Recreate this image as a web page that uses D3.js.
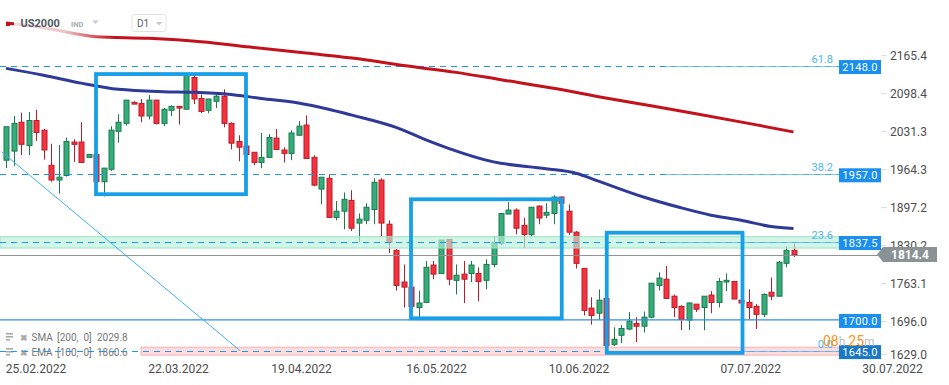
<!DOCTYPE html>
<html>
<head>
<meta charset="utf-8">
<script src="https://cdn.jsdelivr.net/npm/d3@7/dist/d3.min.js"></script>
<style>
  body { margin: 0; background: #fff; font-family: Roboto, "Noto Sans", sans-serif; }
  svg text { font-family: Roboto, "Noto Sans", sans-serif; white-space: pre; }
</style>
</head>
<body>
<div id="chart"></div>
<script>
// daily candles, [open, high, low, close]
var candles = [
  [1981,2040,1967,2040],[1997,2059,1971,2046],[2048,2065,1990,2009],[2007,2066,1990,2051],
  [2051,2070,2015,2030],[2034,2036,1982,1999],[1972,2010,1943,1946],[1946,2008,1922,1951],
  [1954,2021,1952,2014],[2013,2018,1978,2009],[2013,2048,1977,1977],[1986,1991,1986,1991],
  [1991,1991,1943,1943],[1943,1967,1917,1967],[1965,2041,1962,2034],[2032,2062,2012,2048],
  [2046,2087,2042,2087],[2083,2085,2080,2080],[2081,2089,2048,2059],[2059,2096,2053,2087],
  [2087,2087,2044,2046],[2046,2073,2041,2071],[2069,2078,2059,2076],[2076,2076,2044,2073],
  [2071,2136,2071,2131],[2127,2131,2080,2089],[2090,2097,2064,2067],[2069,2089,2064,2089],
  [2085,2097,2073,2094],[2094,2106,2039,2046],[2046,2048,2000,2011],[2014,2025,1979,2004],
  [2006,2006,1991,1991],[1995,1995,1972,1977],[1977,2029,1967,1986],[1986,2027,1986,2021],
  [2020,2036,2000,2000],[1999,2004,1977,1993],[1993,2034,1981,2029],[2025,2050,2025,2041],
  [2043,2060,1983,1984],[1986,1990,1935,1937],[1930,1951,1903,1951],[1949,1956,1880,1880],
  [1880,1909,1875,1891],[1891,1924,1859,1912],[1910,1928,1856,1861],[1870,1887,1836,1877],
  [1875,1905,1868,1898],[1894,1949,1868,1942],[1946,1949,1847,1870],[1868,1875,1817,1836],
  [1822,1824,1751,1760],[1766,1797,1721,1757],[1757,1757,1723,1723],[1721,1751,1699,1729],
  [1730,1803,1730,1792],[1796,1803,1771,1780],[1781,1840,1781,1840],[1841,1841,1760,1771],
  [1769,1797,1744,1778],[1780,1803,1729,1771],[1781,1803,1766,1796],[1781,1792,1732,1767],
  [1769,1806,1753,1797],[1797,1847,1792,1836],[1834,1887,1831,1887],[1886,1907,1886,1893],
  [1893,1896,1850,1861],[1866,1879,1826,1850],[1850,1898,1846,1898],[1900,1901,1868,1879],
  [1884,1905,1879,1889],[1887,1919,1868,1916],[1916,1917,1902,1905],[1891,1903,1849,1854],
  [1854,1856,1790,1799],[1790,1790,1707,1716],[1720,1739,1691,1707],[1711,1753,1700,1734],
  [1737,1737,1654,1654],[1656,1686,1653,1665],[1672,1690,1658,1684],[1683,1713,1681,1697],
  [1693,1704,1660,1688],[1688,1714,1677,1704],[1704,1764,1702,1764],[1760,1783,1751,1773],
  [1771,1794,1737,1737],[1741,1744,1704,1721],[1723,1725,1681,1700],[1699,1730,1681,1729],
  [1727,1727,1713,1718],[1721,1741,1681,1741],[1743,1750,1711,1730],[1730,1773,1721,1767],
  [1766,1781,1750,1769],[1767,1767,1736,1736],[1734,1734,1729,1729],[1730,1753,1700,1721],
  [1723,1727,1683,1709],[1709,1746,1704,1744],[1748,1774,1734,1741],[1741,1803,1741,1801],
  [1799,1829,1792,1822],[1822,1834,1810,1814.4]
];

// moving averages read at candle indices
var smaIdx = [0,4,12,19,26,33,40,47,53,60,66,73,79,86,92,99,105];
var smaVal = [2223,2217,2199,2196,2190,2180,2170,2160,2148,2136,2123,2108,2093,2077,2063,2046,2030.8];
var emaIdx = [0,5,10,15,21,25,30,34,39,43,46,52,56,59,65,72,76,79,85,90,94,98,102,105];
var emaVal = [2143,2131,2117,2106,2102,2101,2097,2090,2082,2071,2061,2039,2017,2002,1978,1966,1958,1944,1916,1897,1884,1875,1864,1860.6];

// price axis ticks and date labels
var priceTicks = [2165.4,2098.4,2031.3,1964.3,1897.2,1830.2,1763.1,1696.0,1629.0];
var dateLabels = ["25.02.2022","22.03.2022","19.04.2022","16.05.2022","10.06.2022","07.07.2022","30.07.2022"];
var dateIdx = [4,23,39.4,57.4,76.4,99.3,118.2];

// fibonacci levels and horizontal levels
var fibLevels = [2148.0,1957.0,1837.5,1645.0];
var fibNames = ["61.8","38.2","23.6","0.0"];
var supportLevel = 1700.0;
var lastPrice = 1814.4;
var greenZone = [1826,1846];
var pinkZone = [1637,1651];

// drawn rectangles [startIdx, endIdx, top, bottom]
var boxes = [[12,32,2133,1921],[54,74.1,1912,1702],[80.1,98.2,1853,1641]];
// trend line [idx, price]
var trendLine = [[-0.6,1996],[31.2,1645]];

var legendRows = [["SMA","[200,  0]","2029.8"],["EMA","[100,  0]","1860.6"]];

var W = 949, H = 385;
var svg = d3.select("#chart").append("svg").attr("width", W).attr("height", H);

var x = d3.scaleLinear().domain([0, 105]).range([6, 793.5]);
var y = d3.scaleLinear().domain([1696, 2165.4]).range([321.7, 55.7]);
var plotRight = 839;

var green = "#35ad7a", greenDark = "#1c7a4e", red = "#f3333f", redDark = "#b91d29";

// candles
var cg = svg.append("g");
candles.forEach(function(d, i) {
  var o = d[0], h = d[1], l = d[2], c = d[3];
  var up = c >= o;
  var cx = Math.round(x(i)) + 0.5;
  cg.append("line")
    .attr("x1", cx).attr("x2", cx)
    .attr("y1", y(h)).attr("y2", y(l))
    .attr("stroke", up ? greenDark : redDark).attr("stroke-width", 1);
  var top = y(Math.max(o, c)), bot = y(Math.min(o, c));
  cg.append("rect")
    .attr("x", cx - 2.5).attr("y", top)
    .attr("width", 5).attr("height", Math.max(1.5, bot - top))
    .attr("fill", up ? green : red)
    .attr("stroke", up ? greenDark : redDark).attr("stroke-width", 1);
});

// zones
svg.append("rect")
  .attr("x", 0).attr("y", y(greenZone[1]))
  .attr("width", plotRight).attr("height", y(greenZone[0]) - y(greenZone[1]))
  .attr("fill", "#b9efd9").attr("fill-opacity", 0.65)
  .attr("stroke", "#9fe0c3").attr("stroke-width", 1);
svg.append("rect")
  .attr("x", 141).attr("y", y(pinkZone[1]))
  .attr("width", plotRight - 141).attr("height", y(pinkZone[0]) - y(pinkZone[1]))
  .attr("fill", "#fbd3d3").attr("fill-opacity", 0.8)
  .attr("stroke", "#f4b4b4").attr("stroke-width", 1);

// legend (under the level lines)
var lg = svg.append("g").attr("fill", "#777").style("font-size", "10px");
legendRows.forEach(function(r, k) {
  var by = 341 + k * 15;
  lg.append("rect").attr("x", 6).attr("y", by - 8).attr("width", 7).attr("height", 1.6).attr("fill", "#aaa");
  lg.append("rect").attr("x", 6).attr("y", by - 5).attr("width", 7).attr("height", 1.6).attr("fill", "#aaa");
  lg.append("rect").attr("x", 6).attr("y", by - 2).attr("width", 4).attr("height", 1.6).attr("fill", "#aaa");
  lg.append("text").attr("x", 19.5).attr("y", by).attr("fill", "#aaa")
    .style("font-size", "9px").style("font-weight", "bold").text("\u2716");
  lg.append("text").attr("x", 31.5).attr("y", by).text(r[0]);
  lg.append("text").attr("x", 57).attr("y", by).text(r[1]);
  lg.append("text").attr("x", 97).attr("y", by).text(r[2]);
});

// current price line
svg.append("line")
  .attr("x1", 0).attr("x2", 878)
  .attr("y1", Math.round(y(lastPrice)) + 0.5).attr("y2", Math.round(y(lastPrice)) + 0.5)
  .attr("stroke", "#8f9496").attr("stroke-width", 1);

// support line
svg.append("line")
  .attr("x1", 0).attr("x2", plotRight)
  .attr("y1", y(supportLevel) + 0.5).attr("y2", y(supportLevel) + 0.5)
  .attr("stroke", "#2f8fe2").attr("stroke-width", 1.2);

// fib level lines
fibLevels.forEach(function(v, k) {
  var ly = Math.round(y(v)) + 0.5;
  svg.append("line")
    .attr("x1", 0).attr("x2", plotRight).attr("y1", ly).attr("y2", ly)
    .attr("stroke", "#1c9ae8").attr("stroke-width", 1.2)
    .attr("stroke-dasharray", "6,5");
  svg.append("line")
    .attr("x1", 665).attr("x2", plotRight).attr("y1", ly).attr("y2", ly)
    .attr("stroke", "#5cb9f0").attr("stroke-width", 1.2).attr("stroke-opacity", 0.8);
  svg.append("text")
    .attr("x", 833).attr("y", ly - 4)
    .attr("text-anchor", "end")
    .attr("fill", "#4cb4f0").style("font-size", "11px")
    .text(fibNames[k]);
});

// trend line
svg.append("line")
  .attr("x1", x(trendLine[0][0])).attr("y1", y(trendLine[0][1]))
  .attr("x2", x(trendLine[1][0])).attr("y2", y(trendLine[1][1]))
  .attr("stroke", "#3fb1f2").attr("stroke-width", 1);

// moving averages
var maLine = d3.line()
  .x(function(d) { return x(d[0]); })
  .y(function(d) { return y(d[1]); })
  .curve(d3.curveMonotoneX);
svg.append("path")
  .datum(smaIdx.map(function(d, i) { return [d, smaVal[i]]; }))
  .attr("d", maLine).attr("fill", "none")
  .attr("stroke", "#c4121c").attr("stroke-width", 3);
svg.append("path")
  .datum(emaIdx.map(function(d, i) { return [d, emaVal[i]]; }))
  .attr("d", maLine).attr("fill", "none")
  .attr("stroke", "#2f3a98").attr("stroke-width", 3);

// rectangles
boxes.forEach(function(b) {
  svg.append("rect")
    .attr("x", x(b[0])).attr("y", y(b[2]))
    .attr("width", x(b[1]) - x(b[0])).attr("height", y(b[3]) - y(b[2]))
    .attr("fill", "none").attr("stroke", "#17a0e8").attr("stroke-width", 3.8);
});

// header fade
var defs = svg.append("defs");
var grad = defs.append("linearGradient").attr("id", "fade");
grad.append("stop").attr("offset", "0%").attr("stop-color", "#fff").attr("stop-opacity", 0.85);
grad.append("stop").attr("offset", "50%").attr("stop-color", "#fff").attr("stop-opacity", 0.75);
grad.append("stop").attr("offset", "100%").attr("stop-color", "#fff").attr("stop-opacity", 0);
svg.append("rect").attr("x", 14).attr("y", 10).attr("width", 100).attr("height", 30).attr("fill", "url(#fade)");

// header
svg.append("rect").attr("x", 6).attr("y", 23).attr("width", 4).attr("height", 3).attr("fill", "#c4121c");
svg.append("text").attr("x", 20.5).attr("y", 27)
  .attr("fill", "#4f5a63").style("font-size", "11px").style("font-weight", "bold").text("US2000");
svg.append("text").attr("x", 71).attr("y", 27)
  .attr("fill", "#a2acb4").style("font-size", "7.5px").style("font-weight", "bold").text("IND");
svg.append("path").attr("d", "M92,20.5 L99,20.5 L95.5,24 Z").attr("fill", "#c5cbd0");
svg.append("rect").attr("x", 132).attr("y", 14.5).attr("width", 34).attr("height", 17).attr("rx", 2)
  .attr("fill", "#fff").attr("stroke", "#dfe3e6");
svg.append("text").attr("x", 137).attr("y", 27)
  .attr("fill", "#5a646c").style("font-size", "10px").text("D1");
svg.append("path").attr("d", "M155.5,22 L162.5,22 L159,25.5 Z").attr("fill", "#c5cbd0");

// right axis
var ag = svg.append("g");
priceTicks.forEach(function(v) {
  var ty = Math.min(y(v), 354.3);
  ag.append("line").attr("x1", 881).attr("x2", 886.5).attr("y1", ty).attr("y2", ty)
    .attr("stroke", "#d8d8d8");
  ag.append("text").attr("x", 890).attr("y", ty + 4.5)
    .attr("fill", "#4d4d4d").style("font-size", "12px").text(d3.format(".1f")(v));
});

// level price tags
var tags = [[2148.0,"#1a8ff0"],[1957.0,"#1a8ff0"],[1837.5,"#1a8ff0"],[1700.0,"#1a8ff0"],[1645.0,"#1a78c4"]];
tags.forEach(function(t) {
  var cy = y(t[0]) + 1.5;
  svg.append("rect").attr("x", 839).attr("y", cy - 7).attr("width", 42).attr("height", 14).attr("fill", t[1]);
  svg.append("text").attr("x", 860).attr("y", cy + 4).attr("text-anchor", "middle")
    .attr("fill", "#fff").style("font-size", "11px").style("letter-spacing", "0.3px")
    .text(d3.format(".1f")(t[0]));
});

// last price tag
var ly = y(lastPrice);
svg.append("path")
  .attr("d", "M877," + ly + " L883," + (ly - 7.5) + " L937," + (ly - 7.5) + " L937," + (ly + 7.5) + " L883," + (ly + 7.5) + " Z")
  .attr("fill", "#8a9296");
svg.append("text").attr("x", 910).attr("y", ly + 4.5).attr("text-anchor", "middle")
  .attr("fill", "#fff").style("font-size", "12px").style("font-weight", "bold").text(d3.format(".1f")(lastPrice));

// countdown
var cd = svg.append("text").attr("x", 823).attr("y", 345.5).style("font-size", "14px");
cd.append("tspan").attr("fill", "#f7941d").text("08");
cd.append("tspan").attr("fill", "#b9bfc4").style("font-size", "12px").text("h ");
cd.append("tspan").attr("fill", "#f7941d").text("25");
cd.append("tspan").attr("fill", "#b9bfc4").style("font-size", "12px").text("m");

// date axis
dateLabels.forEach(function(s, k) {
  svg.append("text").attr("x", x(dateIdx[k])).attr("y", 373)
    .attr("text-anchor", "middle").attr("fill", "#4d4d4d").style("font-size", "12px").text(s);
});
</script>
</body>
</html>
